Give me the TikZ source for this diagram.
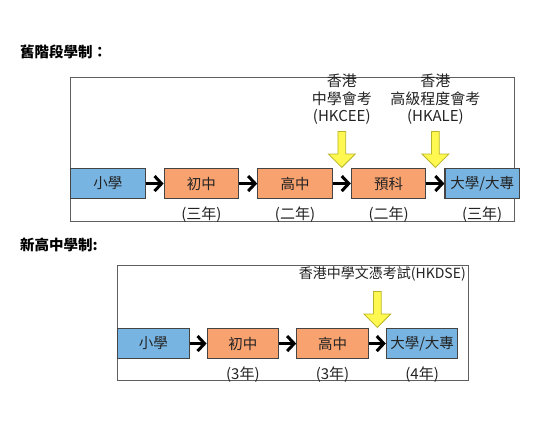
\documentclass[tikz,border=0pt]{standalone}
\usepackage{fontspec}
\setmainfont{Noto Sans CJK TC}
\usepackage{tikz}
\usetikzlibrary{arrows.meta, positioning, shapes.arrows, calc}
\definecolor{ink}{RGB}{35,35,35}
\definecolor{skyfill}{RGB}{120,180,225}
\definecolor{peachfill}{RGB}{248,162,112}
\definecolor{examfill}{RGB}{255,248,80}
\definecolor{examline}{RGB}{185,180,40}
\definecolor{framegray}{RGB}{95,95,95}

\begin{document}
\begin{tikzpicture}[
    x=1pt, y=-1pt,
    node distance=18pt,
    box/.style={rectangle, draw=ink!85, line width=1.1pt,
                minimum width=74.5pt, minimum height=30pt, inner sep=0pt,
                font=\fontsize{14.5}{16}\selectfont, text=ink},
    school/.style={box, fill=skyfill},
    middle/.style={box, fill=peachfill},
    years/.style={font=\fontsize{15}{16}\selectfont, text=ink, inner sep=0pt},
    exam/.style={single arrow, draw=examline, fill=examfill, line width=0.8pt,
                 shape border rotate=270, minimum height=36pt, inner sep=3.5pt,
                 single arrow head extend=9.5pt},
    examtext/.style={align=center, font=\fontsize{15}{17.5}\selectfont,
                     text=ink, inner sep=0pt},
    arr/.style={-{Straight Barb[length=7pt, width=15pt]}, line width=3pt, draw=black},
    frame/.style={draw=framegray, line width=1pt},
    heading/.style={font=\bfseries\fontsize{14.5}{16}\selectfont, anchor=west, inner sep=0pt}
  ]
    \useasboundingbox (0,0) rectangle (536,424);

    % old system
    \node[heading] (oldtitle) at (20,52) {舊階段學制：};
    \draw[frame] (70,77) rectangle (514.5,221);
    \node[school, anchor=north west] (primary) at (70,168) {小學};
    \node[middle, right=of primary] (junior) {初中};
    \node[middle, right=of junior] (senior) {高中};
    \node[middle, right=of senior] (prep) {預科};
    \node[school, right=of prep] (uni) {大學/大專};
    \node[years, below=7.5pt of junior] (junioryr) {(三年)};
    \node[years, below=7.5pt of senior] (senioryr) {(二年)};
    \node[years, below=7.5pt of prep] (prepyr) {(二年)};
    \node[years, below=7.5pt of uni] (uniyr) {(三年)};

    \node[exam, anchor=tip] (ceearrow) at ($(senior.north east)!0.5!(prep.north west)$) {};
    \node[exam, anchor=tip] (alearrow) at ($(prep.north east)!0.5!(uni.north west)$) {};
    \node[examtext, above=6pt of ceearrow.tail] (ceetext) {香港\\中學會考\\(HKCEE)};
    \node[examtext, above=6pt of alearrow.tail] (aletext) {香港\\高級程度會考\\(HKALE)};

    \draw[arr] (primary) -- (junior);
    \draw[arr] (junior) -- (senior);
    \draw[arr] (senior) -- (prep);
    \draw[arr] (prep) -- (uni);

    % new system
    \node[heading] (newtitle) at (20,245) {新高中學制:};
    \draw[frame] (117,265) rectangle (468,380);
    \node[school, minimum width=71.5pt, anchor=north west] (nprimary) at (117,328) {小學};
    \node[middle, minimum width=71.5pt, right=17pt of nprimary] (njunior) {初中};
    \node[middle, minimum width=71.5pt, right=17pt of njunior] (nsenior) {高中};
    \node[school, minimum width=71.5pt, right=17pt of nsenior] (nuni) {大學/大專};
    \node[years, below=7.5pt of njunior] (njunioryr) {(3年)};
    \node[years, below=7.5pt of nsenior] (nsenioryr) {(3年)};
    \node[years, below=7.5pt of nuni] (nuniyr) {(4年)};

    \node[exam, anchor=tip] (dsearrow) at ($(nsenior.north east)!0.5!(nuni.north west)$) {};
    \node[examtext, font=\fontsize{14}{16}\selectfont, anchor=north east] (dsetext) at (466,266) {香港中學文憑考試(HKDSE)};

    \draw[arr] (nprimary) -- (njunior);
    \draw[arr] (njunior) -- (nsenior);
    \draw[arr] (nsenior) -- (nuni);
  \end{tikzpicture}
\end{document}
